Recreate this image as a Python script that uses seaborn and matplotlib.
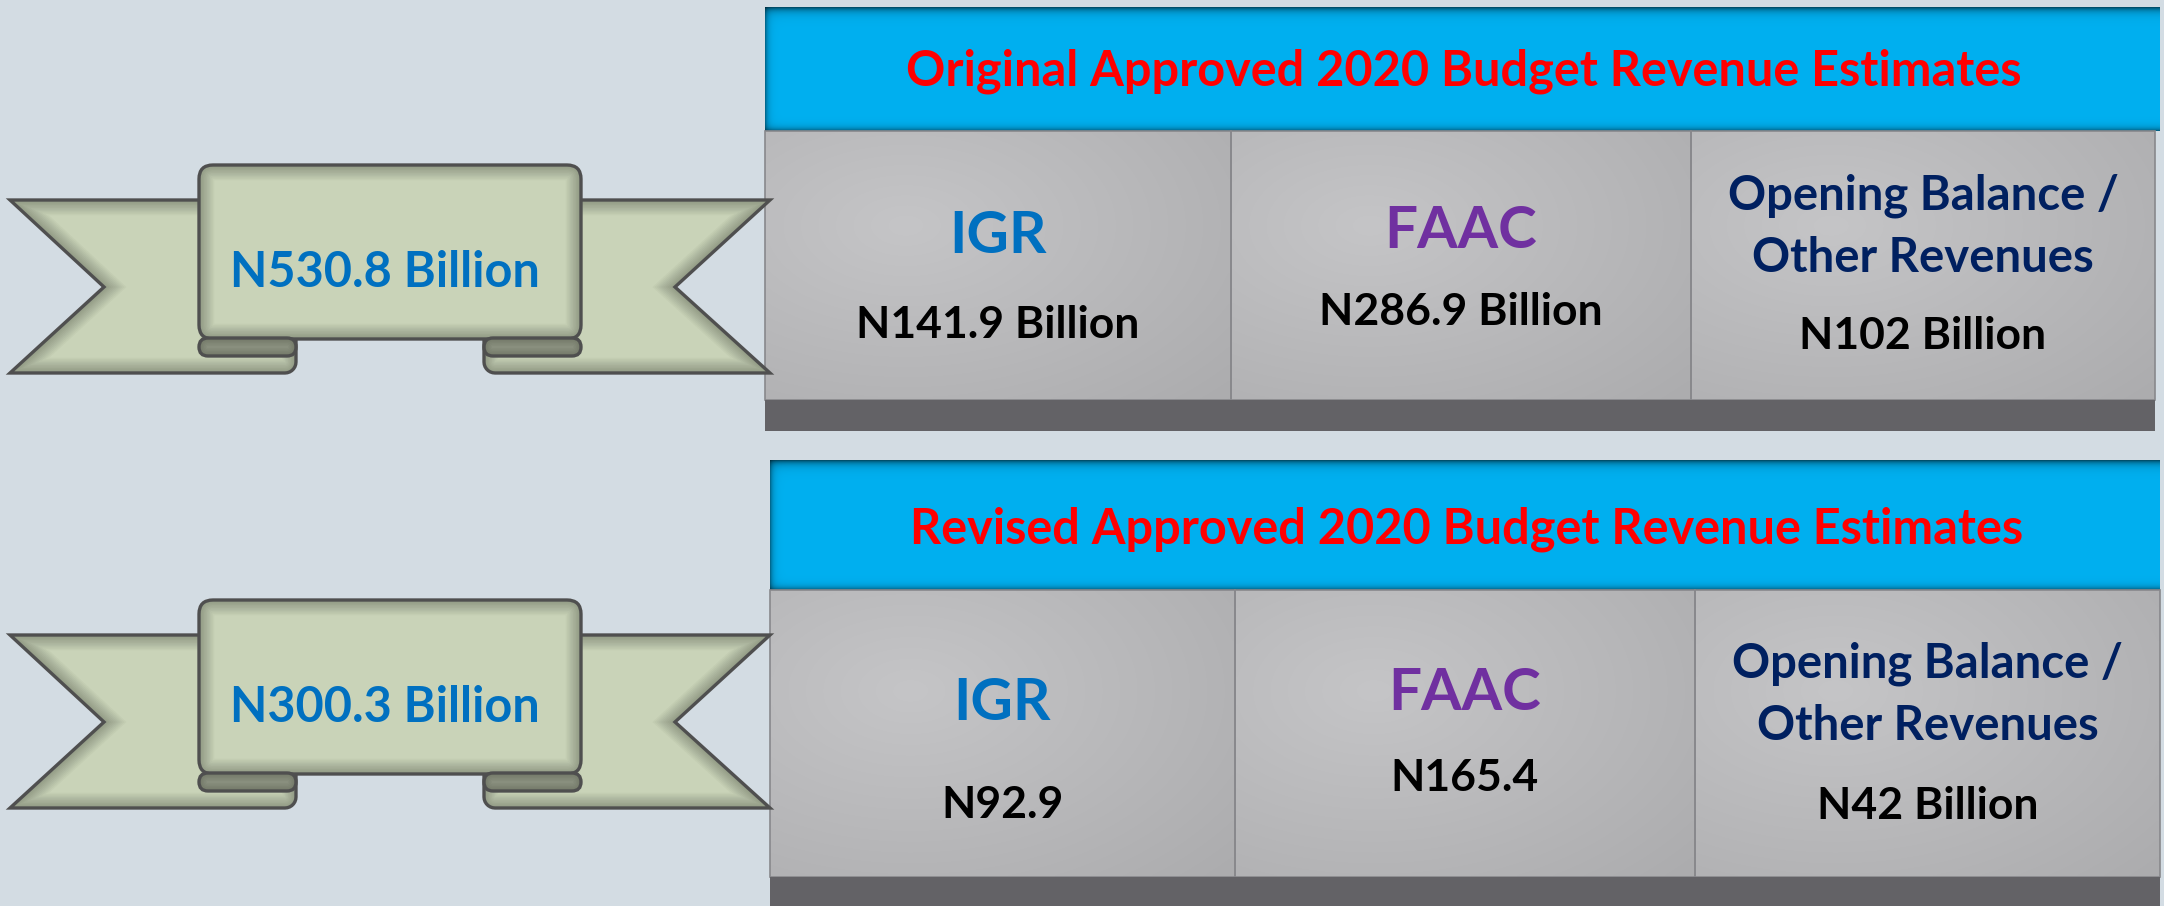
import numpy as np
import matplotlib.pyplot as plt
import seaborn as sns
from matplotlib.patches import Polygon, FancyBboxPatch, Rectangle

sns.set_theme(style="white")
plt.rcParams['font.family'] = ['Lato', 'DejaVu Sans']

# data
panel_titles = ["Original Approved 2020 Budget Revenue Estimates",
                "Revised Approved 2020 Budget Revenue Estimates"]
ribbon_totals = ["N530.8 Billion", "N300.3 Billion"]
categories = ["IGR", "FAAC", "Opening Balance /\nOther Revenues"]
original_amounts = ["N141.9 Billion", "N286.9 Billion", "N102 Billion"]
revised_amounts = ["N92.9", "N165.4", "N42 Billion"]
amounts = [original_amounts, revised_amounts]

# styles
BG = "#D3DCE3"
HEAD = np.array([0, 176, 240]) / 255
BAR = "#636266"
RIB = "#C9D3B8"
RIB_DARK = "#A0A893"
OUTLINE = "#4F4F4F"
cat_colors = ["#0070C0", "#7030A0", "#002060"]

# layout (pixel coordinates, y down)
panels = [
    dict(hx=(765, 2160), hy=(7, 131), by=(131, 400), bar=(400, 431),
         bx=[765, 1231, 1691, 2155], rib_dy=0, title_xy=(1464, 86),
         cat_base=[253, 248, (209, 272)], val_base=[338, 325, 349]),
    dict(hx=(770, 2160), hy=(460, 590), by=(590, 877), bar=(877, 906),
         bx=[770, 1235, 1695, 2160], rib_dy=435, title_xy=(1467, 543),
         cat_base=[720, 710, (677, 740)], val_base=[818, 791, 819]),
]

fig = plt.figure(figsize=(21.64, 9.06), dpi=100)
fig.patch.set_facecolor(BG)
ax = fig.add_axes([0, 0, 1, 1])
ax.set_facecolor(BG)


def header(x0, x1, y0, y1):
    w, h = int(x1 - x0), int(y1 - y0)
    dy = np.arange(h)[:, None]
    dx = np.arange(w)[None, :]
    f = (1 - 0.55 * np.exp(-dy / 4.0)) * (1 - 0.4 * np.exp(-dx / 3.0))
    f = f * (1 - 0.45 * np.exp(-(h - 1 - dy) / 3.0))
    img = HEAD[None, None, :] * f[..., None]
    ax.imshow(img, extent=(x0, x1, y1, y0), aspect='auto', zorder=2)


def grey_box(x0, x1, y0, y1):
    n = 80
    u, v = np.meshgrid(np.linspace(0, 1, n), np.linspace(0, 1, n))
    t = np.clip(np.sqrt((u - 0.3) ** 2 + (v - 0.35) ** 2) / 0.95, 0, 1)
    c1 = np.array([197, 197, 199]) / 255
    c2 = np.array([172, 172, 174]) / 255
    img = c1 * (1 - t)[..., None] + c2 * t[..., None]
    ax.imshow(img, extent=(x0, x1, y1, y0), aspect='auto',
              interpolation='bilinear', zorder=2)
    ax.add_patch(Rectangle((x0, y0), x1 - x0, y1 - y0, fill=False,
                           ec="#88888c", lw=1.2, zorder=3))


def copy_patch(patch, **kw):
    if isinstance(patch, Polygon):
        return Polygon(patch.get_xy(), closed=True, **kw)
    return FancyBboxPatch((patch.get_x(), patch.get_y()), patch.get_width(),
                          patch.get_height(), boxstyle=patch.get_boxstyle(), **kw)


def with_shadow(patch, z):
    # fill, soft inner shadow clipped to the shape, then outline
    ax.add_patch(patch)
    for lw in np.linspace(22, 3, 10):
        sh = copy_patch(patch, fill=False, ec="black", lw=lw, alpha=0.028,
                        zorder=z + 0.1)
        ax.add_patch(sh)
        sh.set_clip_path(patch)
    ax.add_patch(copy_patch(patch, fill=False, ec=OUTLINE, lw=2.4,
                            zorder=z + 0.2, joinstyle='miter'))
    patch.set_edgecolor("none")


def arc(cx, cy, r, a0, a1, n=8):
    a = np.radians(np.linspace(a0, a1, n))
    return list(zip(cx + r * np.cos(a), cy + r * np.sin(a)))


def ribbon(dy, label):
    r = 11
    left = [(10, 200), (215, 200), (215, 338), (296, 338), (296, 373 - r)]
    left += arc(296 - r, 373 - r, r, 0, 90)
    left += [(10, 373), (104, 287)]
    right = [(770, 200), (565, 200), (565, 338), (484, 338), (484, 373 - r)]
    right += arc(484 + r, 373 - r, r, 180, 90)
    right += [(770, 373), (675, 287)]
    for pts in (left, right):
        poly = Polygon([(x, y + dy) for x, y in pts], closed=True,
                       fc=RIB, ec=OUTLINE, zorder=5)
        with_shadow(poly, 5)
    panel = FancyBboxPatch((199, 165 + dy), 382, 174,
                           boxstyle="round,pad=0,rounding_size=14",
                           fc=RIB, ec=OUTLINE, zorder=6)
    with_shadow(panel, 6)
    for cx in (199, 484):
        roll = FancyBboxPatch((cx, 338 + dy), 97, 18,
                              boxstyle="round,pad=0,rounding_size=9",
                              fc=RIB_DARK, ec=OUTLINE, zorder=7)
        with_shadow(roll, 7)
    ax.text(385, 287 + dy, label, color="#0070C0", fontsize=35,
            fontweight='bold', ha='center', va='baseline', zorder=9)


for i, p in enumerate(panels):
    header(*p["hx"], *p["hy"])
    bx = p["bx"]
    for k in range(3):
        grey_box(bx[k], bx[k + 1], *p["by"])
    ax.add_patch(Rectangle((bx[0], p["bar"][0]), bx[3] - bx[0],
                           p["bar"][1] - p["bar"][0], fc=BAR, ec="none", zorder=3))
    ax.text(*p["title_xy"], panel_titles[i], color="#FF0000", fontsize=35,
            fontweight='bold', ha='center', va='baseline', zorder=9)
    for k, cat in enumerate(categories):
        cx = (bx[k] + bx[k + 1]) / 2
        lines = cat.split("\n")
        if len(lines) == 1:
            ax.text(cx, p["cat_base"][k], cat, color=cat_colors[k], fontsize=42,
                    fontweight='bold', ha='center', va='baseline', zorder=9)
        else:
            for line, yb in zip(lines, p["cat_base"][k]):
                ax.text(cx, yb, line, color=cat_colors[k], fontsize=34,
                        fontweight='bold', ha='center', va='baseline', zorder=9)
        ax.text(cx, p["val_base"][k], amounts[i][k], color="black", fontsize=32,
                fontweight='bold', ha='center', va='baseline', zorder=9)
    ribbon(p["rib_dy"], ribbon_totals[i])

ax.set_xlim(0, 2164)
ax.set_ylim(906, 0)
ax.axis('off')
fig.savefig("out.png", dpi=100, facecolor=BG)
